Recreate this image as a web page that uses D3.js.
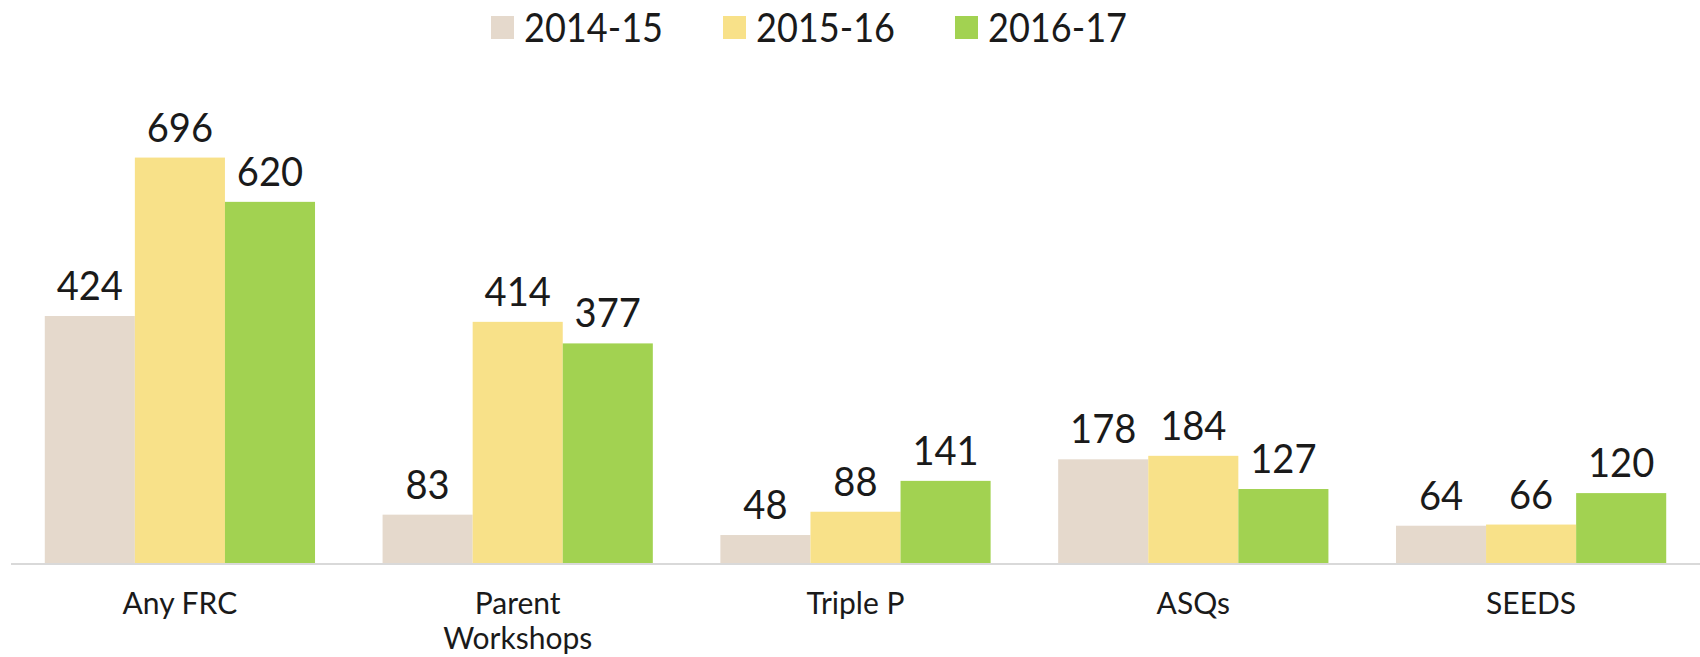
<!DOCTYPE html>
<html>
<head>
<meta charset="utf-8">
<script src="https://cdn.jsdelivr.net/npm/d3@7"></script>
<style>
  body { margin: 0; background: #fff; }
  text { font-family: Lato, "Noto Sans", sans-serif; fill: #1a1a1a; }
</style>
</head>
<body>
<div id="chart"></div>
<script>
const categories = ["Any FRC", "Parent Workshops", "Triple P", "ASQs", "SEEDS"];
const seriesNames = ["2014-15", "2015-16", "2016-17"];
const values2014 = [424, 83, 48, 178, 64];
const values2015 = [696, 414, 88, 184, 66];
const values2016 = [620, 377, 141, 127, 120];
const colors = ["#e5d9cc", "#f8e189", "#a2d251"];

function draw() {
  const width = 1700;
  const height = 657;
  const seriesValues = [values2014, values2015, values2016];

  const svg = d3.select("#chart")
    .append("svg")
    .attr("width", width)
    .attr("height", height);

  const x0 = d3.scaleBand()
    .domain(categories)
    .range([11, 1700])
    .paddingInner(0.2)
    .paddingOuter(0.1);

  const x1 = d3.scaleBand()
    .domain(seriesNames)
    .range([0, x0.bandwidth()]);

  const y = d3.scaleLinear()
    .domain([0, 800])
    .range([563, 97]);

  const color = d3.scaleOrdinal().domain(seriesNames).range(colors);

  const rows = categories.map((c, i) => ({
    cat: c,
    vals: seriesNames.map((s, j) => ({ s: s, v: seriesValues[j][i] }))
  }));

  const group = svg.append("g")
    .selectAll("g")
    .data(rows)
    .join("g")
    .attr("transform", d => `translate(${x0(d.cat)},0)`);

  group.selectAll("rect")
    .data(d => d.vals)
    .join("rect")
    .attr("x", d => x1(d.s))
    .attr("y", d => y(d.v))
    .attr("width", x1.bandwidth())
    .attr("height", d => y(0) - y(d.v))
    .attr("fill", d => color(d.s));

  group.selectAll("text.val")
    .data(d => d.vals)
    .join("text")
    .attr("class", "val")
    .attr("x", d => x1(d.s) + x1.bandwidth() / 2)
    .attr("y", d => y(d.v) - 16)
    .attr("text-anchor", "middle")
    .attr("font-size", 41)
    .attr("transform", d => {
      const cx = x1(d.s) + x1.bandwidth() / 2;
      return `translate(${cx},0) scale(0.93,1) translate(${-cx},0)`;
    })
    .text(d => d.v);

  // axis line
  svg.append("line")
    .attr("x1", 11)
    .attr("x2", 1700)
    .attr("y1", y(0) + 1)
    .attr("y2", y(0) + 1)
    .attr("stroke", "#d9d9d9")
    .attr("stroke-width", 2);

  // category labels (wrap "Parent Workshops")
  svg.append("g")
    .selectAll("text")
    .data(categories)
    .join("text")
    .attr("x", d => x0(d) + x0.bandwidth() / 2)
    .attr("y", 614)
    .attr("text-anchor", "middle")
    .attr("font-size", 30)
    .each(function(d) {
      const words = d === "Parent Workshops" ? ["Parent", "Workshops"] : [d];
      d3.select(this).selectAll("tspan")
        .data(words)
        .join("tspan")
        .attr("x", x0(d) + x0.bandwidth() / 2)
        .attr("dy", (w, i) => i === 0 ? 0 : 35)
        .text(w => w);
    });

  // legend
  const legend = svg.append("g");
  const items = legend.selectAll("g")
    .data(seriesNames)
    .join("g");
  items.append("rect")
    .attr("width", 23)
    .attr("height", 23)
    .attr("y", 16)
    .attr("fill", d => color(d));
  items.append("text")
    .attr("x", 33)
    .attr("y", 42)
    .attr("font-size", 41)
    .attr("textLength", 139)
    .attr("lengthAdjust", "spacingAndGlyphs")
    .text(d => d);

  items.attr("transform", (d, i) => `translate(${i * 232},0)`);
  legend.attr("transform", "translate(491,0)");
}
draw();
</script>
</body>
</html>
